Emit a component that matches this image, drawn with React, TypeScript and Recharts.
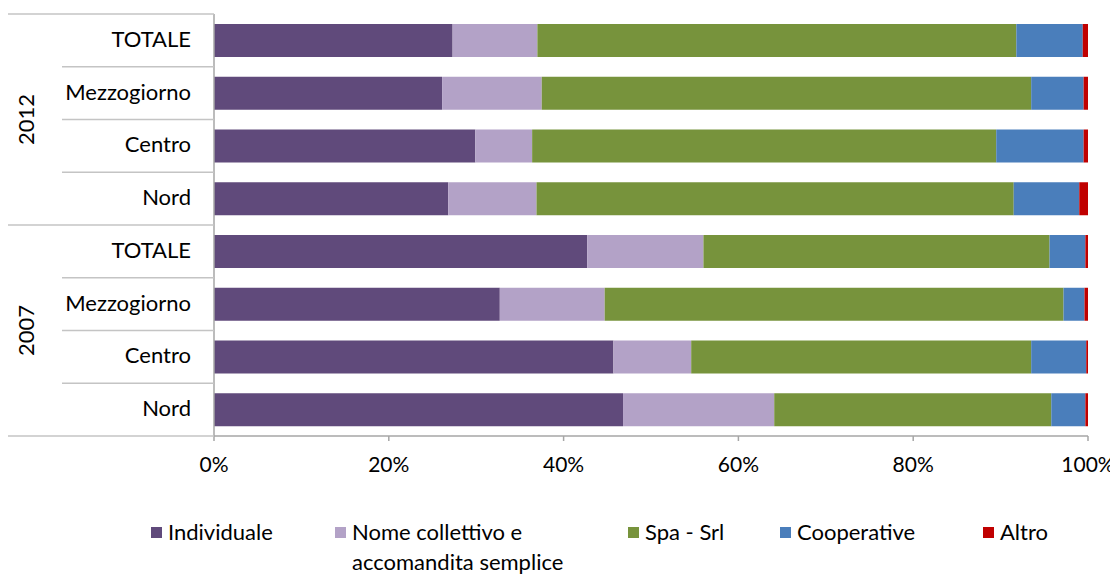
import React from 'react';
import { BarChart, Bar, XAxis, YAxis } from 'recharts';

const years = ['2012', '2007'];
const areas = ['TOTALE', 'Mezzogiorno', 'Centro', 'Nord'];

const seriesNames = ['Individuale', 'Nome collettivo e accomandita semplice', 'Spa - Srl', 'Cooperative', 'Altro'];
const seriesKeys = ['ind', 'nome', 'spa', 'coop', 'altro'];
const seriesColors = ['#604a7b', '#b3a2c7', '#77933c', '#4a7ebb', '#c00000'];

// order: 2012 TOTALE, Mezzogiorno, Centro, Nord, 2007 TOTALE, Mezzogiorno, Centro, Nord
const individuale = [27.3, 26.1, 29.9, 26.8, 42.7, 32.7, 45.7, 46.8];
const nomeCollettivo = [9.7, 11.4, 6.5, 10.1, 13.3, 12.0, 8.9, 17.3];
const spaSrl = [54.8, 56.0, 53.1, 54.6, 39.6, 52.5, 38.9, 31.7];
const cooperative = [7.6, 6.0, 10.0, 7.5, 4.1, 2.4, 6.3, 3.9];
const altro = [0.6, 0.5, 0.5, 1.0, 0.3, 0.4, 0.2, 0.3];

const xTicks = [0, 20, 40, 60, 80, 100];

const seriesValues = [individuale, nomeCollettivo, spaSrl, cooperative, altro];

const data = years.flatMap((year, yi) =>
  areas.map((area, ai) => {
    const idx = yi * areas.length + ai;
    const row: any = { id: `${year}-${area}`, year, area };
    seriesKeys.forEach((k, si) => {
      row[k] = seriesValues[si][idx];
    });
    return row;
  })
);

const FONT = 'Lato, "Open Sans", sans-serif';
const AXIS_COLOR = '#a6a6a6';
const SEP_COLOR = '#c4c4c4';
const TICK_MARGIN = 23;
const FONT_SIZE = 22;

const CategoryTick = (props: any) => {
  const { x, y, payload } = props;
  const i: number = payload.index;
  const half: number = payload.offset || 0;
  const axisX = x + TICK_MARGIN;
  const row = data[i];
  const groupStart = i % areas.length === 0;
  const isLast = i === data.length - 1;
  return (
    <g>
      <line
        x1={groupStart ? 0 : 54}
        x2={axisX}
        y1={y - half}
        y2={y - half}
        stroke={SEP_COLOR}
        strokeWidth={1.3}
      />
      {isLast && (
        <line x1={0} x2={axisX} y1={y + half} y2={y + half} stroke={SEP_COLOR} strokeWidth={1.3} />
      )}
      <text x={x} y={y} dy="0.3em" textAnchor="end" fill="#000" fontSize={FONT_SIZE} fontFamily={FONT}>
        {row ? row.area : ''}
      </text>
      {i % areas.length === 1 && row && (
        <text
          x={18}
          y={y + half}
          dy="0.35em"
          textAnchor="middle"
          fill="#000"
          fontSize={FONT_SIZE}
          fontFamily={FONT}
          transform={`rotate(-90, 18, ${y + half})`}
        >
          {row.year}
        </text>
      )}
    </g>
  );
};

const legendLeft = [143, 327, 620, 772, 975];

export default function App() {
  return (
    <div
      style={{
        position: 'relative',
        width: 1110,
        height: 566,
        fontFamily: FONT,
      }}
    >
      <style>{'html, body { overflow: hidden; } #root { width: 1110px; }'}</style>
      <BarChart
        width={1110}
        height={500}
        data={data}
        layout="vertical"
        margin={{ top: 6, right: 30, left: 0, bottom: 0 }}
        style={{ overflow: 'visible' }}
      >
        <XAxis
          type="number"
          domain={[0, 100]}
          ticks={xTicks}
          tickFormatter={(v: number) => `${v}%`}
          axisLine={{ stroke: AXIS_COLOR, strokeWidth: 1.5 }}
          tickLine={{ stroke: AXIS_COLOR, strokeWidth: 1.5 }}
          tickSize={5}
          tickMargin={16}
          height={72}
          tick={{ fill: '#000', fontSize: 21, fontFamily: FONT }}
          interval={0}
        />
        <YAxis
          type="category"
          dataKey="id"
          width={206}
          axisLine={{ stroke: AXIS_COLOR, strokeWidth: 1.5 }}
          tickLine={false}
          tickSize={0}
          tickMargin={TICK_MARGIN}
          tick={<CategoryTick />}
          interval={0}
        />
        {seriesKeys.map((k, si) => (
          <Bar
            key={k}
            dataKey={k}
            name={seriesNames[si]}
            stackId="a"
            fill={seriesColors[si]}
            barSize={33}
            isAnimationActive={false}
          />
        ))}
      </BarChart>
      {seriesNames.map((name, si) => (
        <div
          key={name}
          style={{
            position: 'absolute',
            left: legendLeft[si],
            top: 509,
            display: 'flex',
            alignItems: 'flex-start',
            fontSize: FONT_SIZE,
            lineHeight: '30px',
            color: '#000',
          }}
        >
          <div
            style={{
              width: 11,
              height: 11,
              background: seriesColors[si],
              marginTop: 10,
              marginRight: 6,
              flexShrink: 0,
            }}
          />
          <div style={{ maxWidth: si === 1 ? 240 : 400, whiteSpace: si === 1 ? 'normal' : 'nowrap' }}>{name}</div>
        </div>
      ))}
    </div>
  );
}
